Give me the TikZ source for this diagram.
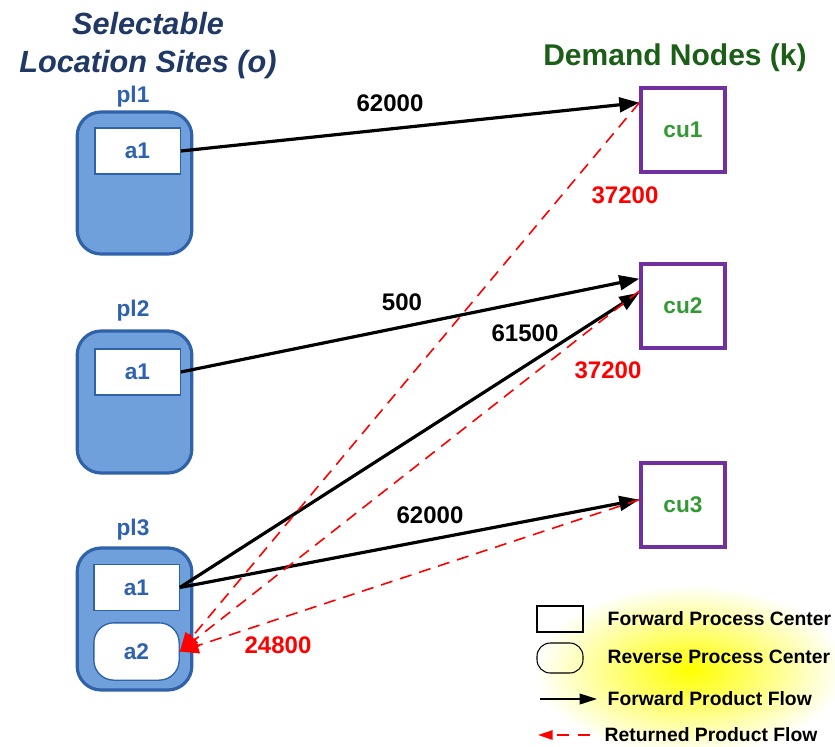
\documentclass[tikz,border=0pt]{standalone}
\usepackage{fontspec}
\setmainfont{Liberation Sans}
\usepackage{xcolor}
\usetikzlibrary{arrows.meta}
\definecolor{siteblue}{HTML}{6FA0DC}
\definecolor{siteedge}{HTML}{2F62A8}
\definecolor{sitetext}{HTML}{2E62AE}
\definecolor{titlenavy}{HTML}{1F3864}
\definecolor{titlegreen}{HTML}{1B5E17}
\definecolor{demandgreen}{HTML}{339933}
\definecolor{demandpurple}{HTML}{7030A0}

\tikzset{
  site/.style={draw=siteedge, line width=2.4pt, fill=siteblue, rounded corners=18pt,
    minimum width=86pt, minimum height=106.5pt},
  fwdcenter/.style={draw=siteedge, line width=1pt, fill=white, minimum width=64pt,
    minimum height=34.5pt, font=\fontsize{17}{20}\selectfont\bfseries, text=sitetext},
  revcenter/.style={draw=siteedge, line width=1pt, fill=white, rounded corners=15pt,
    minimum width=64pt, minimum height=43pt, font=\fontsize{17}{20}\selectfont\bfseries, text=sitetext},
  demand/.style={draw=demandpurple, line width=2.5pt, minimum width=63pt, minimum height=63pt,
    font=\fontsize{17}{20}\selectfont\bfseries, text=demandgreen},
  sitelabel/.style={font=\fontsize{17}{20}\selectfont\bfseries, text=sitetext},
  flowlabel/.style={font=\fontsize{18}{21}\selectfont\bfseries},
  fwdflow/.style={line width=2.4pt, -{Triangle[length=15pt, width=11pt]}},
  retflow/.style={red, line width=1.2pt, dash pattern=on 9pt off 6pt, -{Triangle[length=14pt, width=12pt]}},
  legendtext/.style={anchor=west, font=\fontsize{14.5}{17}\selectfont\bfseries},
}

\begin{document}
\begin{tikzpicture}[x=0.75pt, y=-0.75pt]
\useasboundingbox (0,0) rectangle (835,746);

% legend glow
\shade[inner color=yellow, outer color=white] (690,670) ellipse (155 and 85);

% titles
\node[text=titlenavy, align=center, font=\fontsize{23}{28.5}\selectfont\bfseries\itshape] (sites) at (148,46) {Selectable\\Location Sites (o)};
\node[text=titlegreen, font=\fontsize{22.5}{26}\selectfont\bfseries] (demands) at (675,58) {Demand Nodes (k)};

% location sites
\node[site] (pl1) at (134.5,183) {};
\node[site] (pl2) at (134.5,402) {};
\node[site] (pl3) at (134.5,619) {};
\node[sitelabel] (pl1lab) at (133,97) {pl1};
\node[sitelabel] (pl2lab) at (133,311) {pl2};
\node[sitelabel] (pl3lab) at (133,530) {pl3};
\node[fwdcenter] (pl1a1) at (137.5,151) {a1};
\node[fwdcenter] (pl2a1) at (137.5,372) {a1};
\node[fwdcenter] (pl3a1) at (136.5,587.5) {a1};
\node[revcenter] (pl3a2) at (136.5,651.5) {a2};

% demand nodes
\node[demand] (cu1) at (683,130) {cu1};
\node[demand] (cu2) at (683,306) {cu2};
\node[demand] (cu3) at (683,505) {cu3};

% forward flows
\draw[fwdflow] (pl1a1.east) -- (cu1.148);
\draw[fwdflow] (pl2a1.east) -- (cu2.148);
\draw[fwdflow] (pl3a1.east) -- (cu2.163);
\draw[fwdflow] (pl3a1.east) -- (cu3.173);

% returned flows
\draw[retflow] (cu1.148) -- (pl3a2.east);
\draw[retflow] (cu2.161) -- (pl3a2.east);
\draw[retflow] (cu3.173) -- (pl3a2.east);

% flow values
\node[flowlabel] (f11) at (390,103) {62000};
\node[flowlabel] (f22) at (402,302) {500};
\node[flowlabel] (f32) at (525,333) {61500};
\node[flowlabel] (f33) at (430,515) {62000};
\node[flowlabel, text=red] (r13) at (625,195) {37200};
\node[flowlabel, text=red] (r23) at (608,370) {37200};
\node[flowlabel, text=red] (r33) at (278,645) {24800};

% legend
\node[draw, line width=0.8pt, minimum width=34.5pt, minimum height=19.5pt] (legfwd) at (560,619) {};
\node[draw, line width=0.8pt, rounded corners=10pt, minimum width=34.5pt, minimum height=22.5pt] (legrev) at (560,658) {};
\coordinate (legfs) at (540,699);
\coordinate (legfe) at (597,699);
\coordinate (legrs) at (590,735);
\coordinate (legre) at (538,735);
\draw[line width=1.3pt, -{Triangle[length=13pt, width=8pt]}] (legfs) -- (legfe);
\draw[red, line width=1.3pt, dash pattern=on 9pt off 7pt, -{Triangle[length=11pt, width=7pt]}] (legrs) -- (legre);
\node[legendtext] (legfwdtxt) at (603,619) {Forward Process Center};
\node[legendtext] (legrevtxt) at (603,657) {Reverse Process Center};
\node[legendtext] (legfftxt) at (603,699) {Forward Product Flow};
\node[legendtext] (legrftxt) at (600,735) {Returned Product Flow};
\end{tikzpicture}
\end{document}
